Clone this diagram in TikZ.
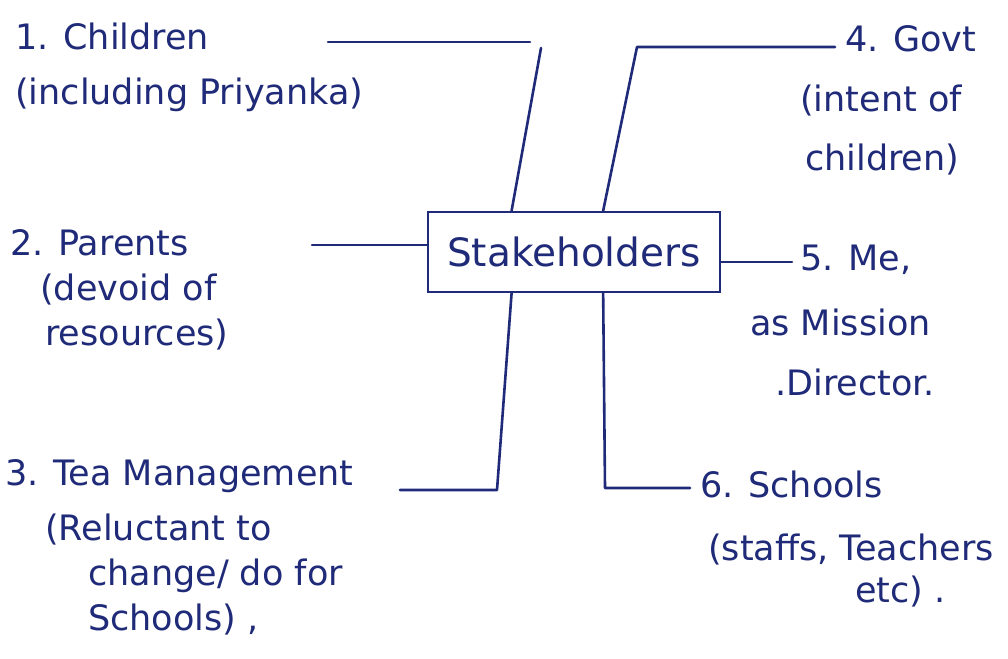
\documentclass[tikz,border=0pt]{standalone}
\usepackage{fontspec}
\setmainfont{DejaVu Sans}
\usetikzlibrary{calc}
\definecolor{inkblue}{HTML}{1F2A78}
\begin{document}
\begin{tikzpicture}[x=1pt,y=-1pt,
  ink/.style={draw=inkblue, line width=2.6pt, line cap=round, line join=round},
  lbl/.style={anchor=base west, inner sep=0pt, text=inkblue, font=\fontsize{35}{40}\selectfont},
  hub/.style={draw=inkblue, line width=2.4pt, minimum width=292pt, minimum height=80pt, text=inkblue, font=\fontsize{39}{44}\selectfont, inner sep=0pt}]
\useasboundingbox[fill=white] (0,0) rectangle (1008,658);

\node[hub] (hub) at (574,252) {Stakeholders};

% labels
\node[lbl] (t1a) at (15,50) {1. Children};
\node[lbl] (t1b) at (15,105) {(including Priyanka)};
\node[lbl] (t2a) at (10,255) {2. Parents};
\node[lbl] (t2b) at (40,300) {(devoid of};
\node[lbl] (t2c) at (45,345) {resources)};
\node[lbl] (t3a) at (5,485) {3. Tea Management};
\node[lbl] (t3b) at (45,540) {(Reluctant to};
\node[lbl] (t3c) at (88,585) {change/ do for};
\node[lbl] (t3d) at (88,630) {Schools) ,};
\node[lbl] (t4a) at (845,52) {4. Govt};
\node[lbl] (t4b) at (800,112) {(intent of};
\node[lbl] (t4c) at (805,170) {children)};
\node[lbl] (t5a) at (800,270) {5. Me,};
\node[lbl] (t5b) at (750,335) {as Mission};
\node[lbl] (t5c) at (775,395) {.Director.};
\node[lbl] (t6a) at (700,497) {6. Schools};
\node[lbl] (t6b) at (708,560) {(staffs, Teachers};
\node[lbl] (t6c) at (855,602) {etc) .};

% coordinates for free ends
\coordinate (a1) at (328,42);
\coordinate (a2) at (530,42);
\coordinate (a3) at (541,48);
\coordinate (b1) at (835,47);
\coordinate (b2) at (637,47);
\coordinate (p1) at (312,245);
\coordinate (m1) at (792,262);
\coordinate (c1) at (497,490);
\coordinate (c2) at (400,490);
\coordinate (d1) at (605,488);
\coordinate (d2) at (690,488);

% connectors
\draw[ink] (a1) -- (a2);
\draw[ink] (a3) -- ($(hub.north west)!0.288!(hub.north east)$);
\draw[ink] (b1) -- (b2) -- ($(hub.north west)!0.599!(hub.north east)$);
\draw[ink] (p1) -- (p1 -| hub.west);
\draw[ink] (m1 -| hub.east) -- (m1);
\draw[ink] ($(hub.south west)!0.288!(hub.south east)$) -- (c1) -- (c2);
\draw[ink] ($(hub.south west)!0.599!(hub.south east)$) -- (d1) -- (d2);
\end{tikzpicture}
\end{document}
